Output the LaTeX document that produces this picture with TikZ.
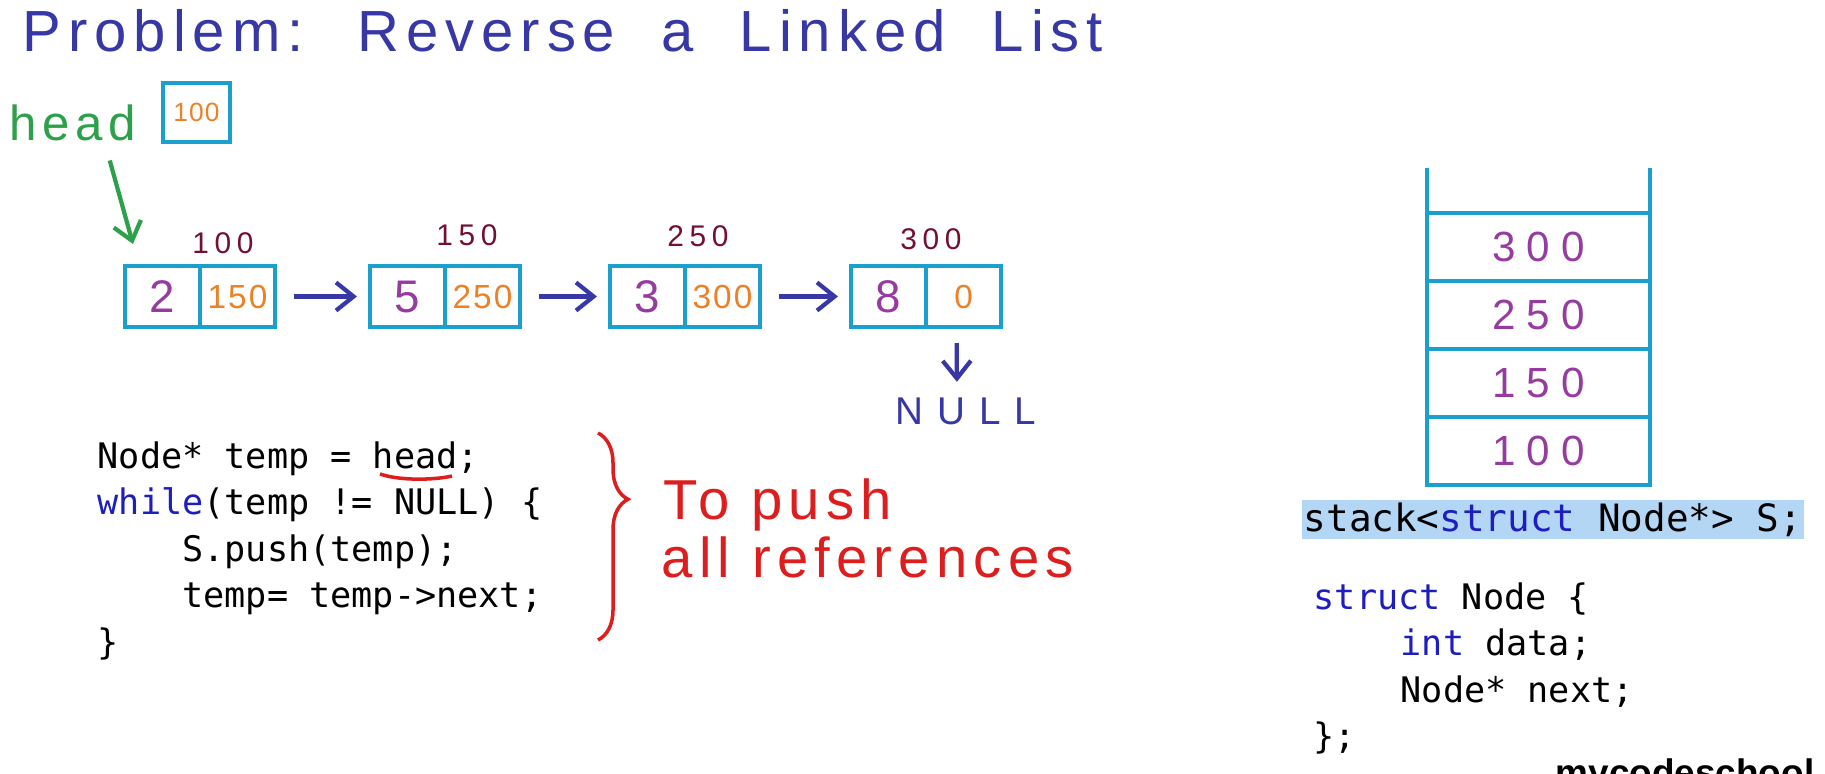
\documentclass[tikz,border=0pt]{standalone}
\usepackage{fontspec}
\setmainfont{Liberation Sans}
\setmonofont{DejaVu Sans Mono}
\newfontfamily\hand{Liberation Sans}
\newfontfamily\titlehand[WordSpace=2]{Liberation Sans}
\usepackage{tikz}
\usetikzlibrary{positioning,arrows.meta,calc,decorations.pathreplacing}
\usepackage{xcolor}
\definecolor{inkblue}{RGB}{55,55,165}
\definecolor{boxcyan}{RGB}{25,160,205}
\definecolor{inkpurple}{RGB}{150,60,160}
\definecolor{inkorange}{RGB}{235,130,40}
\definecolor{inkmaroon}{RGB}{115,15,50}
\definecolor{inkgreen}{RGB}{45,160,75}
\definecolor{inkred}{RGB}{220,30,30}
\definecolor{keyblue}{RGB}{30,30,190}
\definecolor{hilite}{RGB}{180,214,245}
\newcommand\handsz[2]{\hand\fontsize{#1}{#1}\selectfont\addfontfeatures{LetterSpace=#2}}
\newcommand\kw[1]{\textcolor{keyblue}{#1}}
\newcommand\ind{\hphantom{0000}}
\tikzset{
    cell/.style={rectangle, draw=boxcyan, line width=1.2pt, minimum width=0.75cm, minimum height=0.61cm, inner sep=0pt, outer sep=0pt},
    scell/.style={cell, minimum width=2.23cm, minimum height=0.68cm, text=inkpurple, font=\handsz{12}{26}},
    datatxt/.style={text=inkpurple, font=\handsz{13}{0}},
    nexttxt/.style={text=inkorange, font=\handsz{9.5}{6}},
    addr/.style={inner sep=0pt, text=inkmaroon, font=\handsz{8.5}{19}},
    link/.style={draw=inkblue, line width=1.2pt, -{Straight Barb[length=5pt,width=8pt]}, shorten <=0.19cm, shorten >=0.13cm},
    stackpen/.style={draw=boxcyan, line width=1.2pt},
    redpen/.style={draw=inkred, line width=1pt},
    note/.style={inner sep=0pt, anchor=base west, text=inkred, font=\handsz{16}{11}},
    code/.style={inner sep=0pt, anchor=base west, font=\ttfamily\fontsize{10}{12}\selectfont},
}
\begin{document}
\begin{tikzpicture}[x=0.01cm, y=-0.01cm]
    \useasboundingbox (0,0) rectangle (1825,773);
    \fill[white] (0,0) rectangle (1825,773);

    % Title
    \node[inner sep=0pt, anchor=base west, text=inkblue, font={\titlehand\fontsize{16.5}{16.5}\selectfont\addfontfeatures{LetterSpace=12}}] (title) at (22,52) {Problem: Reverse a Linked List};

    % head pointer
    \node[inner sep=0pt, anchor=base west, text=inkgreen, font=\handsz{14}{11}] (head) at (9,140) {head};
    \node[cell, minimum width=0.67cm, minimum height=0.59cm, text=inkorange, font=\handsz{7.5}{4}] (hbox) at (196.5,112.5) {100};

    % Linked list nodes
    \foreach \i/\x/\d/\n in {1/125/2/150, 2/370/5/250, 3/610/3/300, 4/851/8/0} {
        \node[cell, datatxt] (d\i) at (\x+37.5,296.5) {\d};
        \node[cell, nexttxt, right=0pt of d\i] (n\i) {\n};
    }
    \foreach \i/\x/\y/\a in {1/223/243/100, 2/467/235/150, 3/698/236/250, 4/931/239/300}
        \node[addr] (a\i) at (\x,\y) {\a};

    % Links
    \foreach \i/\j in {1/2, 2/3, 3/4}
        \draw[link] (n\i) -- (d\j);
    \draw[link, draw=inkgreen, shorten <=0.2cm, shorten >=0pt] ($(head.south)!0.5!(head.south east)$) -- ($(d1.north west)+(8,-22)$);

    \node[inner sep=0pt, text=inkblue, font=\handsz{11}{36}] (null) at (966,411) {NULL};
    \draw[link, shorten <=0.16cm, shorten >=0.15cm] ([xshift=-0.07cm]n4.south) -- ([xshift=-0.09cm]null.north);

    % Code
    \node[code] (c1) at (97,468) {Node* temp = head;};
    \node[code] (c2) at (97,514) {\kw{while}(temp != NULL) \{};
    \node[code] (c3) at (97,561) {\ind S.push(temp);};
    \node[code] (c4) at (97,607) {\ind temp= temp->next;};
    \node[code] (c5) at (97,654) {\}};
    \draw[redpen] (380,474) .. controls (400,481) and (435,480) .. (452,476);

    % Brace
    \draw[redpen, decorate, decoration={brace, amplitude=0.3cm, aspect=0.32}] (598,433) -- (598,640);
    \node[note] (note1) at (663,519) {To push};
    \node[note] (note2) at (661,577) {all references};

    % Stack
    \node[scell] (s4) at (1538.5,247) {300};
    \node[scell, below=0pt of s4] (s3) {250};
    \node[scell, below=0pt of s3] (s2) {150};
    \node[scell, below=0pt of s2] (s1) {100};
    \draw[stackpen] (s4.north west) -- ++(0,-45);
    \draw[stackpen] (s4.north east) -- ++(0,-45);

    \node[code, anchor=west, fill=hilite, inner xsep=0.02cm, minimum height=0.39cm, font=\ttfamily\fontsize{10.7}{12}\selectfont] (decl) at (1301,519.5) {stack<\kw{struct} Node*> S;};
    \node[code] (st1) at (1313,609) {\kw{struct} Node \{};
    \node[code] (st2) at (1400,655) {\kw{int} data;};
    \node[code] (st3) at (1400,702) {Node* next;};
    \node[code] (st4) at (1313,748) {\};};

    \node[inner sep=0pt, anchor=north west, font=\bfseries\fontsize{10.5}{10.5}\selectfont] (brand) at (1555,758) {mycodeschool};
\end{tikzpicture}
\end{document}
